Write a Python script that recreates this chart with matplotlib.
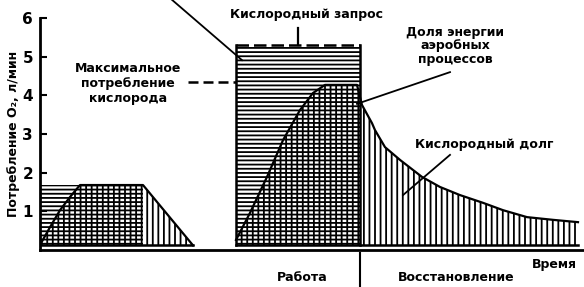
import numpy as np
import matplotlib.pyplot as plt

plt.rcParams['font.family'] = ['DejaVu Sans']
plt.rcParams['font.weight'] = 'bold'
plt.rcParams['hatch.linewidth'] = 1.3
plt.rcParams['hatch.color'] = 'black'

# Время в условных единицах, потребление O2 в л/мин
# Лёгкая работа
t_light = [0.0, 0.5, 1.0, 1.5, 2.0, 5.15, 7.65]
o2_light = [0.13, 0.59, 1.03, 1.37, 1.68, 1.68, 0.12]
light_demand = 1.68
light_work_end = 5.15

# Тяжёлая работа и восстановление
t_heavy = [9.8, 10.5, 11.35, 12.15, 13.0, 13.65, 14.25, 15.85,
           16.1, 16.6, 16.75, 17.25, 18.0, 19.1, 20.0, 21.0,
           22.15, 23.15, 24.35, 25.65, 26.9]
o2_heavy = [0.26, 0.96, 1.89, 2.84, 3.62, 4.06, 4.27, 4.27,
            3.75, 3.28, 3.10, 2.66, 2.33, 1.89, 1.63, 1.42,
            1.22, 1.03, 0.85, 0.78, 0.72]
heavy_start = 9.8
heavy_end = 16.0
heavy_demand = 5.3
vo2_max = 4.34
base = 0.12

yticks = [1, 2, 3, 4, 5, 6]

fig = plt.figure(figsize=(5.84, 2.87), dpi=100)
ax = fig.add_axes([40 / 584, 37 / 287, 544 / 584, 232 / 287])
ax.set_xlim(0, 27.2)
ax.set_ylim(0, 6)

# Лёгкая работа: запрос (горизонтальная штриховка) и потребление (вертикальная)
ax.fill_between([0, light_work_end], base, light_demand, hatch='----',
                facecolor='none', edgecolor='black', linewidth=0)
ax.fill_between(t_light, base, o2_light, hatch='|||',
                facecolor='none', edgecolor='black', linewidth=0)
ax.plot(t_light, o2_light, color='black', lw=1.6)

# Тяжёлая работа
ax.fill_between([heavy_start, heavy_end], base, heavy_demand, hatch='----',
                facecolor='none', edgecolor='black', linewidth=0)
ax.fill_between(t_heavy, base, o2_heavy, hatch='|||',
                facecolor='none', edgecolor='black', linewidth=0)
ax.plot(t_heavy, o2_heavy, color='black', lw=1.6)
ax.plot([heavy_start, heavy_start], [base, heavy_demand], color='black', lw=1.8)
ax.plot([heavy_end, heavy_end], [base, heavy_demand], color='black', lw=1.8)
ax.plot([heavy_start, heavy_end], [heavy_demand, heavy_demand], color='black',
        lw=1.8, ls=(0, (5, 2)))
ax.plot([t_light[0], t_light[-1]], [base, base], color='black', lw=1.8)
ax.plot([heavy_start, t_heavy[-1]], [base, base], color='black', lw=1.8)

# Подписи и выноски
ax.text(13.3, 6.08, 'Кислородный запрос', ha='center', va='center', fontsize=9)
ax.plot([12.9, 12.9], [5.74, heavy_demand], color='black', lw=1.6)

ax.text(4.4, 4.3, 'Максимальное\nпотребление\nкислорода', ha='center', va='center',
        fontsize=9, linespacing=1.2)
ax.plot([7.4, heavy_start], [vo2_max, vo2_max], color='black', lw=1.8, ls=(0, (4, 2)))

ax.plot([6.6, 10.1], [6.47, 4.91], color='black', lw=1.3, clip_on=False)

ax.text(20.75, 5.28, 'Доля энергии\nаэробных\nпроцессов', ha='center', va='center',
        fontsize=9, linespacing=1.05)
ax.plot([20.5, 15.85], [4.6, 3.78], color='black', lw=1.3)

ax.text(22.2, 2.72, 'Кислородный долг', ha='center', va='center', fontsize=9)
ax.plot([20.5, 18.15], [2.46, 1.42], color='black', lw=1.3)

# Подписи под осью времени
ax.text(13.1, -0.7, 'Работа', ha='center', va='center', fontsize=9, clip_on=False)
ax.plot([heavy_end, heavy_end], [-0.08, -0.95], color='black', lw=1.5, clip_on=False)
ax.text(20.8, -0.72, 'Восстановление', ha='center', va='center', fontsize=9,
        clip_on=False)
ax.text(25.7, -0.38, 'Время', ha='center', va='center', fontsize=9, clip_on=False)

# Оси
ax.spines['top'].set_visible(False)
ax.spines['right'].set_visible(False)
ax.spines['left'].set_linewidth(2)
ax.spines['bottom'].set_linewidth(2)
ax.set_xticks([])
ax.set_yticks(yticks)
ax.tick_params(axis='y', direction='in', length=5, width=1.5, pad=5, labelsize=11)
ax.set_ylabel('Потребление O₂, л/мин', fontsize=9, fontweight='bold', labelpad=2)

fig.savefig('out.png', dpi=100)
